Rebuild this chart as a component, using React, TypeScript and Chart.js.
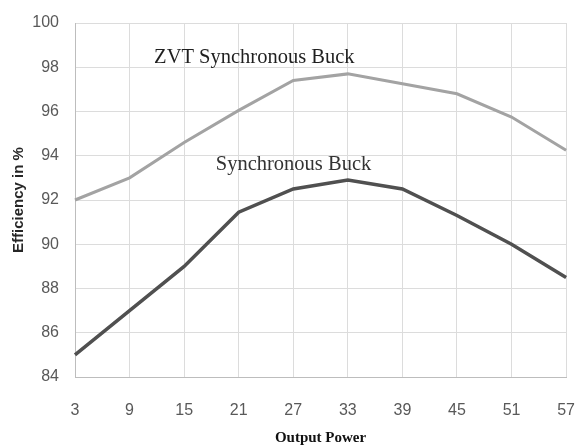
import React, { useEffect, useRef } from "react";
import { Chart, registerables } from "chart.js";

Chart.register(...registerables);

const categories = ["3", "9", "15", "21", "27", "33", "39", "45", "51", "57"];
const zvtSyncBuck = [92, 93, 94.6, 96.05, 97.4, 97.7, 97.25, 96.8, 95.75, 94.25];
const syncBuck = [85, 87, 89, 91.45, 92.5, 92.9, 92.5, 91.3, 90, 88.5];
const yTicks = [84, 86, 88, 90, 92, 94, 96, 98, 100];
const annotations = [
  { text: "ZVT Synchronous Buck", xIndex: 1.45, yValue: 98.2, color: "#1f1f1f" },
  { text: "Synchronous Buck", xIndex: 2.58, yValue: 93.36, color: "#333333" },
];

const labelPlugin = {
  id: "curveLabels",
  afterDatasetsDraw(chart: any) {
    const { ctx, scales } = chart;
    ctx.save();
    ctx.font = "20.5px 'Liberation Serif', 'Times New Roman', serif";
    ctx.textBaseline = "alphabetic";
    ctx.textAlign = "left";
    for (const a of annotations) {
      ctx.fillStyle = a.color;
      ctx.fillText(a.text, scales.x.getPixelForValue(a.xIndex), scales.y.getPixelForValue(a.yValue));
    }
    ctx.restore();
  },
};

export default function App() {
  const ref = useRef<HTMLCanvasElement>(null);
  useEffect(() => {
    document.body.style.margin = "0";
    const chart = new Chart(ref.current!, {
      type: "line",
      data: {
        labels: categories,
        datasets: [
          {
            label: "ZVT Synchronous Buck",
            data: zvtSyncBuck,
            borderColor: "#a3a3a3",
            borderWidth: 3,
            pointRadius: 0,
            tension: 0,
          },
          {
            label: "Synchronous Buck",
            data: syncBuck,
            borderColor: "#505050",
            borderWidth: 3.5,
            pointRadius: 0,
            tension: 0,
          },
        ],
      },
      options: {
        animation: false,
        responsive: false,
        devicePixelRatio: 1,
        layout: { padding: { left: 0, right: 10, top: 23, bottom: 0 } },
        plugins: { legend: { display: false }, tooltip: { enabled: false } },
        scales: {
          x: {
            offset: false,
            grid: { color: "#dcdcdc", lineWidth: 1, drawTicks: true, tickLength: 22, tickColor: "rgba(0,0,0,0)" },
            border: { color: "#bdbdbd", width: 1 },
            ticks: {
              color: "#595959",
              padding: 2,
              maxRotation: 0,
              font: { family: "'Liberation Sans', Arial, sans-serif", size: 16 },
            },
            title: {
              display: true,
              text: "Output Power",
              color: "#111111",
              padding: { top: 0, bottom: -1 },
              font: { family: "'Liberation Serif', 'Times New Roman', serif", size: 15, weight: "bold" },
            },
            afterFit(scale: any) {
              scale.height = 69;
            },
          },
          y: {
            min: 84,
            max: 100,
            afterBuildTicks(scale: any) {
              scale.ticks = yTicks.map((v) => ({ value: v }));
            },
            grid: { color: "#dcdcdc", lineWidth: 1, drawTicks: true, tickLength: 14, tickColor: "rgba(0,0,0,0)" },
            border: { color: "#bdbdbd", width: 1 },
            ticks: {
              color: "#595959",
              padding: 2,
              font: { family: "'Liberation Sans', Arial, sans-serif", size: 16 },
            },
            title: {
              display: true,
              text: "Efficiency in %",
              color: "#262626",
              padding: { top: 10, bottom: 0 },
              font: { family: "'Liberation Sans', Arial, sans-serif", size: 15, weight: "bold" },
            },
            afterFit(scale: any) {
              scale.width = 75;
            },
          },
        },
      },
      plugins: [labelPlugin],
    });
    return () => chart.destroy();
  }, []);
  return (
    <div style={{ position: "absolute", left: 0, top: 0, width: 577, height: 446, background: "#ffffff" }}>
      <canvas ref={ref} width={577} height={446} style={{ width: 577, height: 446 }} />
    </div>
  );
}
